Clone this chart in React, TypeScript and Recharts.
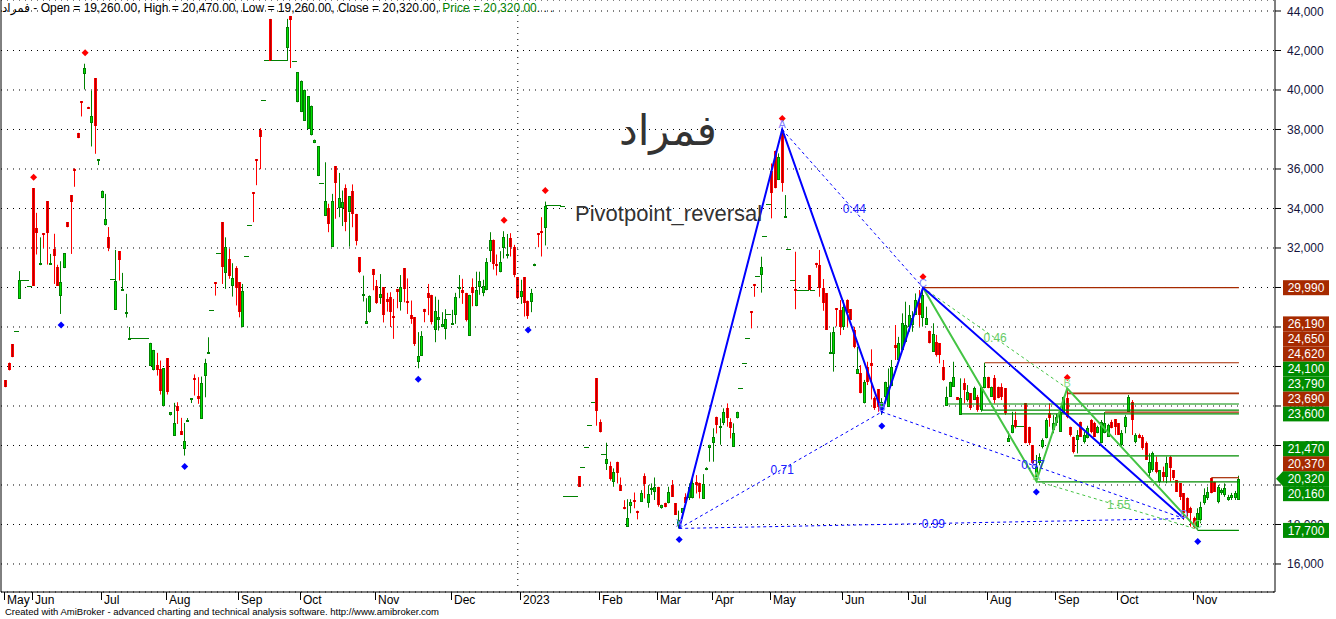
import React from 'react';
import { ComposedChart, Bar, Line, XAxis, YAxis, CartesianGrid, ReferenceLine, ReferenceDot } from 'recharts';

type Candle = [number, number, number, number, number]; // [bar, open, high, low, close]
const dj = (i: number, v: number): Candle => [i, v, v, v, v];

const candlesMayJul22: Candle[] = [
  [0,25300,25300,24950,24950],[1,26200,26200,25800,25800],[2,27130,27130,26470,26470],dj(3,27790),
  [4,29430,30830,29430,30370],dj(5,30370),dj(6,30370),dj(7,30100),[8,35030,35030,30100,30100],
  [9,33000,33780,31670,32750],[10,31130,32540,31130,31230],[11,32750,32750,32000,32700],[12,34370,34370,31160,32750],
  [13,31150,31700,31150,31250],[14,31960,32720,30180,31620],[15,31030,31150,30100,30100],[16,29590,31330,28660,30270],
  [17,30980,31740,30980,31740],[18,33310,33310,33050,33050],[19,34660,34660,31700,34350],[20,35990,36040,35100,35950],
  [21,37830,37830,37560,37560],[22,39430,39430,38660,39400],[23,40820,41330,40030,41100],[24,39150,39150,39080,39080],
  [25,38320,39970,37140,38670],[26,40600,40600,36770,38200],[27,36450,36500,36200,36500],
];
const candlesJulSep22: Candle[] = [
  [28,34520,34910,34520,34910],[29,33140,34740,33140,33460],[30,32550,33060,31840,31990],dj(31,30440),
  [32,28880,31900,28880,30320],[33,31840,31840,30350,31370],[34,29880,30740,29880,29930],[35,28700,29680,28480,28780],
  [36,27400,28000,27400,27460],dj(37,27430),dj(38,27430),dj(39,27430),dj(40,27430),dj(41,27430),
  [42,26050,27200,26050,27200],[43,25800,26840,25800,26840],[44,26080,26690,25540,25800],[45,25850,26300,24580,24780],
  [46,24020,25910,24020,25910],[47,26420,26420,24580,24730],[48,23520,23690,23520,23690],[49,22500,24160,22500,23140],
  [50,23990,24190,23090,23740],[51,22740,23400,22550,22550],[52,21810,23140,21490,22220],[53,23250,23390,23250,23300],
  [54,24350,24400,24150,24400],[55,25420,25600,24530,25380],[56,24530,25460,24110,24360],[57,23350,25490,23350,25150],
  [58,25540,26390,24440,26170],[59,26700,27480,26700,26750],dj(60,28870),[61,30270,30270,29590,30190],dj(62,31740),
  [63,33310,33310,30180,31030],[64,30720,32540,29930,32040],[65,31450,31960,30440,30560],[66,30100,31230,29540,30490],
  [67,30980,31080,29090,29970],[68,30270,30270,28490,28780],[69,27990,30180,27990,29800],
];
const candlesSepOct22: Candle[] = [
  dj(70,31590),dj(71,33160),[72,34820,34820,33310,34780],[73,36500,36500,35180,36450],[74,37950,38070,35990,37610],
  dj(75,39500),dj(76,41500),[77,43600,43600,41470,41470],dj(78,41500),dj(79,41500),dj(80,41500),dj(81,41500),
  [82,42130,43600,41470,43190],[83,43750,43750,41110,43550],dj(84,41460),[85,39380,40900,39380,40900],
  [86,38880,40480,38880,40480],[87,38450,40020,38450,40020],[88,38030,39690,38030,39690],[89,37700,39210,37700,39210],
  [90,37310,37490,37310,37490],[91,35640,37160,35640,37160],dj(92,35300),[93,33640,36340,33640,34400],
  [94,34010,34240,32800,33220],[95,32070,34740,32070,34400],[96,36140,36140,33480,35280],[97,34010,35800,33560,34520],
  [98,34010,34910,33110,34350],[99,35030,35220,32850,33310],[100,33810,33810,32070,34620],[101,34910,35220,33050,33730],
  [102,33730,33730,32130,32340],[103,31530,31530,30730,30770],[104,29600,30600,29290,29650],[105,28160,29460,28160,28280],
  [106,28750,29600,28720,29590],[107,30940,30940,29860,30650],
];
const candlesNovDec22: Candle[] = [
  [108,30100,30380,29170,29220],[109,29490,30680,29170,29660],[110,30000,30000,28230,28600],[111,29420,29730,28780,29290],
  [112,29510,29760,28000,28780],[113,28580,29420,27400,28500],[114,29930,29930,28950,29760],[115,29250,30630,28830,30000],
  [116,30980,30980,29250,29900],[117,29340,30460,28660,29200],[118,28630,29340,28160,28410],[119,28500,28500,27040,27150],
  [120,26250,27740,25910,26520],[121,26550,27790,26550,27530],[122,28920,28920,28240,28780],[123,29710,30180,28600,29460],
  [124,29630,29630,28130,28240],[125,27870,29540,27230,28800],[126,28330,29380,27820,28530],[127,27990,28750,27990,28160],
  [128,27890,28900,27370,28410],dj(129,28670),[130,28180,28870,28100,28220],[131,28620,29730,28160,29520],
  [132,29980,30630,29460,30020],[133,29880,30440,29170,29730],[134,29730,29730,28280,28330],[135,27550,29630,27550,29630],
  [136,30000,30460,29050,29730],[137,29050,30800,29050,29880],[138,30000,30800,29630,30320],[139,29710,30390,29560,30070],
  [140,29860,31490,29860,31290],[141,31840,32800,31290,32430],[142,32430,32430,30910,31170],[143,31170,31670,30610,31080],
  [144,30770,31840,30770,31310],[145,31990,32850,31470,32540],[146,31570,32710,31470,31700],[147,32490,32750,31570,32040],
  [148,32040,32160,30520,30610],[149,30520,30520,29420,29460],
];
const candlesJanFeb23: Candle[] = [
  [150,29510,30390,29170,29810],[151,30520,30520,28530,29200],[152,29340,29340,28410,28580],[153,29290,29930,28750,29710],
  [154,31080,31210,31080,31210],[155,32750,32750,32040,32670],[156,32840,33560,31570,32750],[157,33000,34350,32130,34150],
  dj(158,34180),dj(159,34180),dj(160,34180),dj(161,34180),dj(162,34120),
  dj(163,19460),dj(164,19460),dj(165,19460),dj(166,19460),[167,20450,20450,19910,19910],
  dj(168,20890),dj(169,21940),dj(170,23040),dj(171,24180),[172,25400,25400,23000,23760],[173,23170,23320,22660,22660],
  dj(174,21570),[175,21050,22140,20760,21320],[176,20960,21180,20220,20280],[177,20160,20840,19910,20670],
  [178,21180,21180,20080,20590],[179,19990,20380,19710,19710],
];
const candlesMarApr23: Candle[] = [
  [180,18900,19230,18770,18770],[181,17890,19280,17890,18310],[182,18930,19280,18570,19150],[183,19240,19620,18820,19150],
  [184,18700,18700,18260,18660],[185,19150,19740,19150,19570],[186,20450,20590,19320,20050],[187,19100,19990,18850,19520],
  [188,19780,20080,19500,19830],[189,19660,20380,19240,19910],[190,19910,19910,18900,18990],[191,18820,19000,18800,18990],
  [192,19100,19100,18870,18870],[193,19070,19910,19070,19660],[194,20000,20250,19410,19410],[195,19070,19070,18480,18480],
  [196,17900,18700,17800,18250],[197,18570,18820,18500,18820],[198,19370,19580,19070,19070],[199,19320,20080,19240,19910],
  [200,19320,20500,19320,20080],[201,20160,20500,19570,20000],[202,20120,20120,19320,19660],[203,19290,20550,19290,20050],
  [204,20800,20900,20750,20850],[205,21870,22040,21180,22040],[206,22110,22870,21180,22410],[207,23420,23460,22610,23030],
  [208,22870,23380,22040,22990],[209,23120,23880,23030,23710],[210,23880,24130,22950,23370],[211,23200,23380,22360,22870],
  [212,21940,23120,21940,22610],[213,23370,23710,23370,23710],dj(214,24890),dj(215,26160),dj(216,27420),
  [217,28800,28800,27930,28750],[218,30180,30180,29530,30140],dj(219,30600),[220,30630,31560,29740,31050],
  dj(221,32600),dj(222,34210),
];
const candlesMayJun23: Candle[] = [
  [223,35900,36280,33500,34800],[224,36930,36930,35020,35020],[225,35440,36790,35440,36620],[226,37980,38000,34850,35270],
  [227,33550,34680,33550,33600],dj(228,31950),dj(229,30380),[230,29900,31810,28900,29860],dj(231,29870),dj(232,29870),
  dj(233,29870),[234,30630,30630,29870,29870],dj(235,29870),[236,31250,31250,31000,31220],[237,31130,31900,29530,29960],
  [238,29960,30430,28820,29190],[239,29700,29700,27850,27850],[240,26630,27730,26630,26730],[241,26630,28010,25740,27730],
  [242,28960,28960,28030,28920],[243,28850,29360,27590,28010],[244,28010,29360,27850,29030],[245,29360,29400,28010,28690],
  [246,28890,28890,28350,28350],[247,27850,28010,26920,27000],[248,25620,27000,25620,25850],[249,25650,26070,24640,24640],
  [250,24130,25320,24130,25230],[251,25990,26240,25060,25230],[252,26160,26870,24330,26020],[253,24390,24480,23800,23880],
  [254,24840,24840,23710,23930],
];
const candlesJulAug23: Candle[] = [
  [255,23800,24400,23550,24200],[256,24470,25230,24130,25230],[257,23970,25900,23970,24980],[258,25010,26330,25010,25990],
  [259,27100,28100,26330,26950],[260,26330,27500,26330,27170],[261,26840,28690,26840,28190],[262,27260,29280,27260,28100],
  [263,28020,29110,27760,28610],[264,28100,28800,27760,28440],[265,28610,29700,28610,29370],[266,29200,29870,28020,28610],
  [267,28440,29990,28020,29640],[268,28100,29030,28100,28440],[269,27810,27810,27170,27210],[270,26750,28190,26750,27650],
  [271,27260,27600,26500,26580],[272,27170,27170,26160,26580],[273,25990,26330,25280,25320],[274,24020,24980,24020,24440],
  [275,24470,25230,24470,25230],[276,24980,26240,24980,25480],[277,24440,24440,24300,24300],[278,23550,25400,23550,24390],
  [279,25150,25400,24130,24810],[280,24300,25060,24220,24720],[281,24640,24640,23800,23880],[282,24300,24980,24300,24890],
  [283,24470,24560,23710,23800],[284,23800,24980,23710,24980],[285,24900,26190,24900,25480],[286,25480,25480,24900,24900],
  [287,24470,24980,24470,24980],[288,25400,25570,24130,24300],[289,24980,24980,24390,24390],[290,24980,25150,24300,24470],
  [291,24890,24890,23550,23630],[292,22200,22700,22200,22360],[293,22620,23710,22620,23040],[294,23290,23710,22870,22950],
  dj(295,23000),dj(296,23000),[297,24130,24130,22110,22110],[298,22950,22950,22020,22110],[299,22020,22020,21060,21100],
];
const candlesSepNov23: Candle[] = [
  [300,20420,21520,20200,20930],[301,21100,21600,21000,21430],[302,21940,22360,21850,22280],[303,22360,23380,22360,23290],
  [304,23630,24130,22950,23380],[305,22780,23540,22620,23120],[306,23120,23600,23000,23460],[307,22700,23970,22700,23710],
  [308,23630,24470,23630,24470],[309,24400,24890,23380,23460],[310,22950,22950,22450,22530],[311,22450,22450,21600,21690],
  [312,22280,22780,21600,22530],[313,23210,23210,22450,22450],[314,22200,22700,22100,22530],[315,22360,23000,22360,22870],
  [316,23290,23330,22620,22700],[317,23120,23200,22450,22450],[318,22620,23000,22620,22950],[319,22110,23290,22110,23210],
  [320,22620,23690,22620,23120],[321,22450,23100,22450,23040],[322,23210,23300,22870,22870],[323,23330,23330,22530,22950],
  [324,23120,23120,22530,22530],[325,22020,22780,21940,22620],[326,22950,23540,22620,23460],[327,23710,24560,23710,24470],
  [328,24220,24300,22530,23290],[329,22200,22620,22110,22530],[330,22530,22600,22360,22360],[331,22450,22530,21780,21860],
  [332,22110,22200,21270,21270],[333,20590,21600,20420,21180],[334,20760,21690,20670,21600],[335,21180,21440,20590,20670],
  [336,20170,20760,20090,20760],[337,20670,20930,20170,20420],[338,20420,21440,20090,21100],[339,21440,21470,20170,20840],
  [340,20760,20760,20250,20340],[341,20250,20250,19660,19660],[342,20080,20080,19240,19410],[343,19580,19580,18230,18570],
  [344,19320,19370,18400,18570],[345,18820,18900,17890,18570],[346,18310,18400,17800,17890],[347,17890,18820,17700,18570],
  [348,18230,19150,18060,18900],[349,19070,19830,19000,19490],[350,19320,19910,19240,19660],[351,20370,20370,19580,19580],
  [352,20170,20170,19660,19660],[353,19150,20000,19070,19910],[354,19580,19830,19500,19740],[355,19490,20080,19400,19830],
  [356,19240,19500,19200,19410],[357,19320,19600,19240,19490],[358,19320,19700,19240,19580],[359,19260,20470,19260,20320],
];

const monthTicks = [0, 8, 28, 47, 68, 86, 108, 130, 150, 173, 190, 206, 223, 244, 263, 286, 306, 324, 346];
const monthLabels = ['May','Jun','Jul','Aug','Sep','Oct','Nov','Dec','2023','Feb','Mar','Apr','May','Jun','Jul','Aug','Sep','Oct','Nov'];
const yearSeparator = 149;
const priceTicks = [16000, 18000, 20000, 22000, 24000, 26000, 28000, 30000, 32000, 34000, 36000, 38000, 40000, 42000, 44000];

const pivotHighBars = [8, 23, 145, 157, 226, 267, 309];
const pivotLowBars = [16, 52, 120, 152, 196, 255, 300, 347];

const bluePatternBars = [196, 226, 255, 267, 343];
const bluePatternValues = [17800, 38000, 23700, 29990, 18300];
const bluePatternNames = ['X', 'A', 'B', 'C', 'D'];
const blueRatioLegs: [number, number, string][] = [[0, 2, '0.71'], [1, 3, '0.44'], [2, 4, '0.87'], [0, 4, '0.99']];

const greenPatternBars = [267, 300, 309, 347];
const greenPatternValues = [29990, 20200, 24890, 17750];
const greenPatternNames = ['X', 'A', 'B', 'C'];
const greenRatioLegs: [number, number, string][] = [[0, 2, '0.46'], [1, 3, '1.55']];

const resistanceLevels = [29990, 26190, 24650, 24620, 23690, 20370];
const resistanceStartBars = [267, 285, 309, 309, 320, 351];
const supportLevels = [24100, 23790, 23600, 21470, 20160, 17700];
const supportStartBars = [274, 284, 278, 311, 300, 347];
const lastPrice = 20320;
const levelEndBar = 359;
const labelStacks: { anchor: number; values: number[] }[] = [
  { anchor: 29990, values: [29990] },
  { anchor: 23600, values: [23600, 23690, 23790, 24100, 24620, 24650, 26190] },
  { anchor: 20320, values: [20160, 20320, 20370, 21470] },
  { anchor: 17700, values: [17700] },
];
const lastBar = { o: 19260, h: 20470, l: 19260, c: 20320 };

const FONT = '"Liberation Sans", Arial, "DejaVu Sans", sans-serif';
const BROWN = '#a62a00';
const GREEN = '#008c00';
const BLUE = '#0000ff';
const LGREEN = '#44c444';

const allCandles = [
  ...candlesMayJul22, ...candlesJulSep22, ...candlesSepOct22, ...candlesNovDec22,
  ...candlesJanFeb23, ...candlesMarApr23, ...candlesMayJun23, ...candlesJulAug23, ...candlesSepNov23,
];
const candleMap = new Map<number, Candle>(allCandles.map((c) => [c[0], c]));

const data: any[] = [];
for (let i = -1; i <= 369; i++) {
  const row: any = { i };
  const c = candleMap.get(i);
  if (c) { row.o = c[1]; row.h = c[2]; row.l = c[3]; row.c = c[4]; }
  if (pivotHighBars.includes(i) && c) row.ph = c[2];
  if (pivotLowBars.includes(i) && c) row.pl = c[3];
  const bk = bluePatternBars.indexOf(i);
  if (bk >= 0) row.bp = bluePatternValues[bk];
  const gk = greenPatternBars.indexOf(i);
  if (gk >= 0) row.gp = greenPatternValues[gk];
  blueRatioLegs.forEach(([a, b], n) => {
    if (i === bluePatternBars[a]) row['bd' + n] = bluePatternValues[a];
    if (i === bluePatternBars[b]) row['bd' + n] = bluePatternValues[b];
  });
  greenRatioLegs.forEach(([a, b], n) => {
    if (i === greenPatternBars[a]) row['gd' + n] = greenPatternValues[a];
    if (i === greenPatternBars[b]) row['gd' + n] = greenPatternValues[b];
  });
  data.push(row);
}

const fmt = (v: number) => v.toLocaleString('en-US');

const CandleShape = (props: any) => {
  const { x, y, width, height, payload } = props;
  if (!payload || payload.h == null) return <g />;
  const { o, h, l, c } = payload;
  const hi = h > l ? h : l + 1;
  const top = Math.min(y, y + height);
  const bot = Math.max(y, y + height);
  const k = (bot - top) / (hi - l);
  const py = (v: number) => top + (hi - v) * k;
  const cx = x + width / 2;
  const left = Math.round(cx - 1.5);
  const mid = left + 1.5;
  const up = c >= o;
  if (h === l) {
    const yy = Math.round(py(c));
    return <rect x={left - 1} y={yy} width={5} height={1} fill={up ? '#008000' : '#e00000'} />;
  }
  const wick = up ? '#008000' : '#ff0000';
  const bt = Math.round(py(Math.max(o, c)));
  let bb = Math.round(py(Math.min(o, c)));
  if (bb - bt < 2) bb = bt + 2;
  return (
    <g>
      <line x1={mid} x2={mid} y1={py(h)} y2={py(l)} stroke={wick} strokeWidth={1} />
      {up ? (
        <g>
          <rect x={left} y={bt} width={3} height={bb - bt} fill="#008000" />
          <rect x={left + 1} y={bt + 1} width={1} height={Math.max(0, bb - bt - 2)} fill="#00e000" />
        </g>
      ) : (
        <g>
          <rect x={left} y={bt} width={3} height={bb - bt} fill="#ff0000" />
          <rect x={left + 1} y={bt} width={1} height={bb - bt} fill="#b00000" />
        </g>
      )}
    </g>
  );
};

const makeDot = (color: string, offset: number, keyPrefix: string) => (props: any) => {
  const { cx, cy, value, index } = props;
  if (value == null || cy == null || isNaN(cy)) return <g key={`${keyPrefix}-${index}`} />;
  const yy = cy + offset;
  return (
    <path key={`${keyPrefix}-${index}`} d={`M${cx - 3.5},${yy} L${cx},${yy - 3.5} L${cx + 3.5},${yy} L${cx},${yy + 3.5} Z`} fill={color} />
  );
};

const MonthTick = (props: any) => {
  const { x, y, payload } = props;
  const k = monthTicks.indexOf(payload.value);
  const x0 = Math.round(x - 1.7) + 0.5;
  return (
    <g>
      <line x1={x0} x2={x0} y1={y} y2={y + 8} stroke="#000" />
      <text x={x0 + 2.5} y={y + 12} fontSize={12} fill="#000" fontFamily={FONT}>{monthLabels[k]}</text>
    </g>
  );
};

const PriceTickText = (props: any) => {
  const { viewBox, value } = props;
  if (!viewBox) return <g />;
  const xr = viewBox.x + viewBox.width;
  return (
    <text x={xr + 12} y={viewBox.y + 4.5} fill="#14143c" fontSize={12} fontFamily={FONT}>{fmt(value)}</text>
  );
};

const AxisStack = (props: any) => {
  const { viewBox, anchor, values } = props;
  if (!viewBox) return <g />;
  const plotRight = viewBox.x + viewBox.width;
  const y0 = viewBox.y;
  const sorted = [...values].sort((a: number, b: number) => a - b);
  const r0 = sorted.indexOf(anchor);
  const x0 = plotRight + 8;
  return (
    <g>
      {sorted.map((v: number, r: number) => {
        const cy = y0 + (r0 - r) * 15;
        const color = resistanceLevels.includes(v) ? BROWN : GREEN;
        return (
          <g key={v}>
            {v === lastPrice && <polygon points={`${plotRight + 1},${cy} ${x0},${cy - 7.5} ${x0},${cy + 7.5}`} fill={color} />}
            <rect x={x0} y={cy - 7.5} width={46} height={15} fill={color} />
            <text x={x0 + 23} y={cy + 4.5} textAnchor="middle" fill="#fff" fontSize={12} fontFamily={FONT}>{fmt(v)}</text>
          </g>
        );
      })}
    </g>
  );
};

const textShape = (label: string, color: string, dy: number, size: number) => (p: any) => (
  <text x={p.cx} y={p.cy + dy} textAnchor="middle" fill={color} fontSize={size} fontFamily={FONT}>{label}</text>
);

export default function App() {
  return (
    <div style={{ position: 'absolute', left: 0, top: 0, width: 1336, height: 619, background: '#fff', overflow: 'hidden' }}>
      <ComposedChart width={1336} height={619} data={data} margin={{ top: 0, right: 0, bottom: 0, left: 0 }}>
        <CartesianGrid vertical={false} stroke="#000" strokeDasharray="1 5" />
        <XAxis dataKey="i" type="category" ticks={monthTicks} interval={0} tick={<MonthTick />} tickLine={false}
          tickSize={0} tickMargin={0} height={27} axisLine={{ stroke: '#000' }} />
        <YAxis yAxisId="L" orientation="left" width={1} tick={false} tickLine={false} axisLine={{ stroke: '#000' }}
          domain={[14582, 44557]} allowDataOverflow />
        <YAxis orientation="right" width={61} domain={[14582, 44557]} allowDataOverflow ticks={priceTicks}
          interval={0} tickSize={6} tickMargin={6} axisLine={{ stroke: '#000' }}
          tickLine={{ stroke: '#000' }} tick={() => <g />} />
        <ReferenceLine x={yearSeparator} stroke="#000" strokeDasharray="1 5" />
        {resistanceLevels.map((v, n) => (
          <ReferenceLine key={'r' + n} segment={[{ x: resistanceStartBars[n], y: v }, { x: levelEndBar, y: v }]} stroke={BROWN} strokeWidth={1.2} />
        ))}
        {supportLevels.map((v, n) => (
          <ReferenceLine key={'s' + n} segment={[{ x: supportStartBars[n], y: v }, { x: levelEndBar, y: v }]} stroke={GREEN} strokeWidth={1.2} />
        ))}
        <Bar dataKey={(d: any) => (d.h == null ? null : [d.l, d.h > d.l ? d.h : d.l + 1])} barSize={3}
          shape={<CandleShape />} isAnimationActive={false} />
        {blueRatioLegs.map((_, n) => (
          <Line key={'bd' + n} dataKey={'bd' + n} connectNulls stroke={BLUE} strokeWidth={1} strokeDasharray="3 3" dot={false} activeDot={false} isAnimationActive={false} />
        ))}
        {greenRatioLegs.map((_, n) => (
          <Line key={'gd' + n} dataKey={'gd' + n} connectNulls stroke={LGREEN} strokeWidth={1} strokeDasharray="3 3" dot={false} activeDot={false} isAnimationActive={false} />
        ))}
        <Line dataKey="gp" connectNulls stroke={LGREEN} strokeWidth={2} dot={false} activeDot={false} isAnimationActive={false} />
        <Line dataKey="bp" connectNulls stroke={BLUE} strokeWidth={2} dot={false} activeDot={false} isAnimationActive={false} />
        <Line dataKey="ph" stroke="none" dot={makeDot('#ff0000', -11, 'ph')} activeDot={false} isAnimationActive={false} />
        <Line dataKey="pl" stroke="none" dot={makeDot('#0000ff', 11, 'pl')} activeDot={false} isAnimationActive={false} />
        {blueRatioLegs.map(([a, b, t], n) => (
          <ReferenceDot key={'bl' + n} x={Math.round((bluePatternBars[a] + bluePatternBars[b]) / 2)}
            y={(bluePatternValues[a] + bluePatternValues[b]) / 2} r={1} shape={textShape(t, '#2020ff', 4, 12)} />
        ))}
        {greenRatioLegs.map(([a, b, t], n) => (
          <ReferenceDot key={'gl' + n} x={Math.round((greenPatternBars[a] + greenPatternBars[b]) / 2)}
            y={(greenPatternValues[a] + greenPatternValues[b]) / 2} r={1} shape={textShape(t, '#66cc66', 4, 12)} />
        ))}
        {bluePatternNames.map((nm, n) => (
          <ReferenceDot key={'bn' + n} x={bluePatternBars[n]} y={bluePatternValues[n]} r={1} shape={textShape(nm, '#8080ff', -1, 11)} />
        ))}
        {greenPatternNames.slice(1).map((nm, n) => (
          <ReferenceDot key={'gn' + n} x={greenPatternBars[n + 1]} y={greenPatternValues[n + 1]} r={1} shape={textShape(nm, '#88dd88', -1, 11)} />
        ))}
        {priceTicks.map((v) => (
          <ReferenceLine key={'pt' + v} y={v} stroke="none" ifOverflow="visible" label={<PriceTickText value={v} />} />
        ))}
        {labelStacks.map((s, n) => (
          <ReferenceLine key={'ls' + n} y={s.anchor} stroke="none" ifOverflow="visible"
            label={<AxisStack anchor={s.anchor} values={s.values} />} />
        ))}
      </ComposedChart>
      <div style={{ position: 'absolute', left: 2, top: 1, fontFamily: FONT, fontSize: 12, lineHeight: '14px', color: '#000', whiteSpace: 'nowrap' }}>
        فمراد - Open = {fmt(lastBar.o)}.00, High = {fmt(lastBar.h)}.00, Low = {fmt(lastBar.l)}.00, Close = {fmt(lastBar.c)}.00, <span style={{ color: '#008000' }}>Price = {fmt(lastBar.c)}.00</span>. . .
      </div>
      <div style={{ position: 'absolute', left: 619, top: 106, fontFamily: '"DejaVu Sans", sans-serif', fontSize: 42, color: '#333', whiteSpace: 'nowrap' }}>فمراد</div>
      <div style={{ position: 'absolute', left: 575, top: 201, fontFamily: FONT, fontSize: 22, color: '#333', whiteSpace: 'nowrap' }}>Pivotpoint_reversal</div>
      <div style={{ position: 'absolute', left: 5, top: 606, fontFamily: FONT, fontSize: 9.5, color: '#000', whiteSpace: 'nowrap' }}>
        Created with AmiBroker - advanced charting and technical analysis software. http://www.amibroker.com
      </div>
    </div>
  );
}
